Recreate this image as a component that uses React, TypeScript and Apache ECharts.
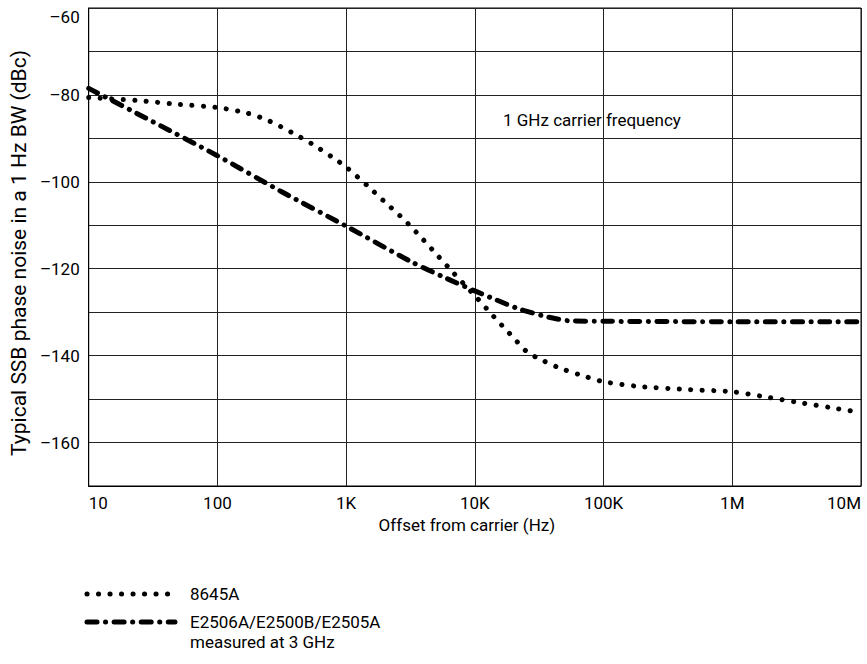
import React, { useEffect, useRef } from "react";
import * as echarts from "echarts";

const FONT = 'Roboto, "Liberation Sans", Arial, sans-serif';

// Tick values / labels
const xTickValues = [10, 100, 1000, 10000, 100000, 1000000, 10000000];
const xTickLabels = ["10", "100", "1K", "10K", "100K", "1M", "10M"];

// Series names
const seriesNames = ["8645A", "E2506A/E2500B/E2505A"];
const legendSecondLine = "measured at 3 GHz";
const annotation = "1 GHz carrier frequency";

// 8645A (dotted)
const freq8645A = [10, 24, 47, 100, 171, 253, 375, 545, 778, 1000, 1500, 2060, 2820, 3800, 5040, 6790, 10000, 14000, 18600, 25100, 30000, 44300, 65300, 100000, 190000, 456000, 1000000, 1660000, 3160000, 5930000, 10000000];
const noise8645A = [-80.6, -81.3, -82.1, -82.9, -84.2, -86, -88.6, -91.3, -94.3, -96.6, -101.2, -105, -108.7, -112.7, -116.7, -120.9, -126.2, -131, -134.9, -139, -140.4, -142.7, -144.4, -146, -147.1, -147.8, -148.3, -149.3, -150.7, -152, -153.1];

// E2506A/E2500B/E2505A (dash-dot)
const freqE25 = [10, 31.6, 100, 316, 1000, 3160, 6000, 10000, 14200, 22200, 34500, 42700, 54700, 100000, 1000000, 10000000];
const noiseE25 = [-78.5, -86.2, -94, -102.3, -110.2, -118.3, -122.2, -125.1, -127, -129.3, -130.9, -131.5, -132, -132.1, -132.2, -132.2];

const DOT = [0.1, 11.4];
const DASHDOT = [10, 8.5, 0.1, 8.5];

export default function App() {
  const ref = useRef<HTMLDivElement>(null);
  useEffect(() => {
    if (!ref.current) return;
    const chart = echarts.init(ref.current, undefined, { renderer: "svg" });
    const d1 = freq8645A.map((f, i) => [f, noise8645A[i]]);
    const d2 = freqE25.map((f, i) => [f, noiseE25[i]]);
    chart.setOption({
      animation: false,
      backgroundColor: "#fff",
      textStyle: { fontFamily: FONT, color: "#000" },
      grid: {
        left: 88,
        top: 8,
        right: 6,
        bottom: 178,
        show: true,
        borderColor: "#000",
        borderWidth: 1,
        containLabel: false,
      },
      xAxis: {
        type: "log",
        logBase: 10,
        min: 10,
        max: 10000000,
        name: "Offset from carrier (Hz)",
        nameLocation: "middle",
        nameGap: 30,
        nameTextStyle: { fontSize: 17, fontFamily: FONT, color: "#000", padding: [0, 16, 0, 0] },
        axisLine: { show: true, lineStyle: { color: "#000", width: 1 } },
        axisTick: { show: false },
        splitLine: { show: true, lineStyle: { color: "#222", width: 1 } },
        axisLabel: {
          fontSize: 17,
          fontFamily: FONT,
          color: "#000",
          margin: 8,
          alignMinLabel: "left",
          alignMaxLabel: "right",
          formatter: (v: number) => {
            const i = xTickValues.findIndex((t) => Math.abs(Math.log10(t) - Math.log10(v)) < 1e-6);
            return i >= 0 ? xTickLabels[i] : "";
          },
        },
      },
      yAxis: {
        type: "value",
        min: -170,
        max: -60,
        interval: 10,
        name: "Typical SSB phase noise in a 1 Hz BW (dBc)",
        nameLocation: "middle",
        nameGap: 54,
        nameTextStyle: { fontSize: 21, fontFamily: FONT, color: "#000", padding: [0, 12, 0, 0] },
        axisLine: { show: true, lineStyle: { color: "#000", width: 1 } },
        axisTick: { show: false },
        splitLine: { show: true, lineStyle: { color: "#222", width: 1 } },
        axisLabel: {
          fontSize: 17,
          fontFamily: FONT,
          color: "#000",
          margin: 9,
          verticalAlignMaxLabel: "top",
          formatter: (v: number) => ((v + 60) % 20 === 0 ? "\u2013" + Math.abs(v) : ""),
        },
      },
      series: [
        {
          name: seriesNames[0],
          type: "line",
          data: d1,
          symbol: "none",
          smooth: 0.25,
          lineStyle: { color: "#000", width: 5, type: DOT, cap: "round" },
          z: 3,
        },
        {
          name: seriesNames[1],
          type: "line",
          data: d2,
          symbol: "none",
          smooth: 0.25,
          lineStyle: { color: "#000", width: 5, type: DASHDOT, cap: "round" },
          z: 4,
        },
      ],
      graphic: [
        {
          type: "text",
          x: 503,
          y: 120,
          style: { text: annotation, fontSize: 17, fontFamily: FONT, fill: "#000", verticalAlign: "middle" },
        },
        {
          type: "line",
          shape: { x1: 87, y1: 594, x2: 175, y2: 594 },
          style: { stroke: "#000", lineWidth: 5, lineDash: DOT, lineCap: "round" },
        },
        {
          type: "text",
          x: 190,
          y: 594,
          style: { text: seriesNames[0], fontSize: 17, fontFamily: FONT, fill: "#000", verticalAlign: "middle" },
        },
        {
          type: "line",
          shape: { x1: 87, y1: 622, x2: 175, y2: 622 },
          style: { stroke: "#000", lineWidth: 5, lineDash: DASHDOT, lineCap: "round" },
        },
        {
          type: "text",
          x: 190,
          y: 622,
          style: { text: seriesNames[1], fontSize: 17, fontFamily: FONT, fill: "#000", verticalAlign: "middle" },
        },
        {
          type: "text",
          x: 190,
          y: 642,
          style: { text: legendSecondLine, fontSize: 17, fontFamily: FONT, fill: "#000", verticalAlign: "middle" },
        },
      ],
    });
    return () => chart.dispose();
  }, []);
  return <div ref={ref} style={{ position: "absolute", left: 0, top: 0, width: 867, height: 664 }} />;
}
